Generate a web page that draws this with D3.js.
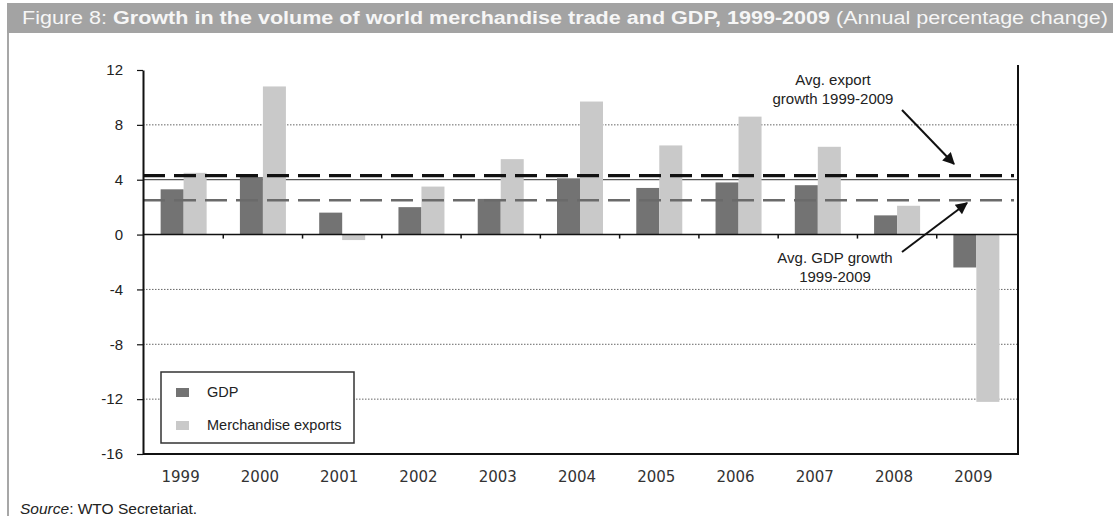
<!DOCTYPE html>
<html>
<head>
<meta charset="utf-8">
<script src="https://cdn.jsdelivr.net/npm/d3@7"></script>
<style>
  html, body { margin: 0; padding: 0; background: #fff; }
  svg { display: block; }
</style>
</head>
<body>
<svg id="chart" width="1116" height="516"></svg>
<script>
// Annual percentage change in volume, 1999-2009
const years = ["1999", "2000", "2001", "2002", "2003", "2004", "2005", "2006", "2007", "2008", "2009"];
const gdp = [3.3, 4.2, 1.6, 2.0, 2.6, 4.1, 3.4, 3.8, 3.6, 1.4, -2.4];
const exportsVol = [4.5, 10.8, -0.4, 3.5, 5.5, 9.7, 6.5, 8.6, 6.4, 2.1, -12.2];
const seriesNames = ["GDP", "Merchandise exports"];
const yTicks = [-16, -12, -8, -4, 0, 4, 8, 12];
const avgExportGrowth = 4.3;
const avgGdpGrowth = 2.5;

const svg = d3.select("#chart");

const colors = { "GDP": "#737373", "Merchandise exports": "#c9c9c9" };

// Title band
svg.append("rect")
  .attr("x", 7).attr("y", 3).attr("width", 1106).attr("height", 30)
  .attr("fill", "#a3a3a3");

const title = svg.append("text")
  .attr("x", 22).attr("y", 24)
  .attr("font-family", "Liberation Sans, Arial, sans-serif")
  .attr("font-size", 18)
  .attr("fill", "#f6f6f6")
  .attr("textLength", 1086)
  .attr("lengthAdjust", "spacingAndGlyphs");
title.append("tspan").text("Figure 8: ");
title.append("tspan").attr("font-weight", "bold")
  .text("Growth in the volume of world merchandise trade and GDP, 1999-2009");
title.append("tspan").text(" (Annual percentage change)");

// Frame line on the left
svg.append("line")
  .attr("x1", 8).attr("x2", 8).attr("y1", 33).attr("y2", 516)
  .attr("stroke", "#8a8a8a").attr("stroke-width", 1.5);

// Scales
const x0 = d3.scaleBand().domain(years).range([144, 1016]).padding(0);
const groupWidth = 46;
const x1 = d3.scaleBand().domain(seriesNames).range([0, groupWidth]).padding(0);
const y = d3.scaleLinear().domain([-16, 12]).range([454, 70]);

const left = 143, right = 1018;

// Gridlines: dotted, with a solid one at 4
const grid = svg.append("g");
[-12, -8, -4, 8].forEach(v => {
  grid.append("line")
    .attr("x1", left).attr("x2", right)
    .attr("y1", y(v)).attr("y2", y(v))
    .attr("stroke", "#666").attr("stroke-width", 1)
    .attr("stroke-dasharray", "1.5,1.5");
});
grid.append("line")
  .attr("x1", left).attr("x2", right)
  .attr("y1", y(4)).attr("y2", y(4))
  .attr("stroke", "#555").attr("stroke-width", 1.2);

// Bars
const rows = years.map((yr, i) => ({ year: yr, values: [
  { key: "GDP", value: gdp[i] },
  { key: "Merchandise exports", value: exportsVol[i] }
]}));

const groupOffset = (x0.bandwidth() - groupWidth) / 2;
svg.append("g")
  .selectAll("g")
  .data(rows)
  .join("g")
  .attr("transform", d => `translate(${x0(d.year) + groupOffset},0)`)
  .selectAll("rect")
  .data(d => d.values)
  .join("rect")
  .attr("x", d => x1(d.key))
  .attr("width", x1.bandwidth())
  .attr("y", d => y(Math.max(0, d.value)))
  .attr("height", d => Math.abs(y(d.value) - y(0)))
  .attr("fill", d => colors[d.key]);

// Average growth lines
svg.append("line")
  .attr("x1", left).attr("x2", 1014)
  .attr("y1", y(avgExportGrowth)).attr("y2", y(avgExportGrowth))
  .attr("stroke", "#111").attr("stroke-width", 3.2)
  .attr("stroke-dasharray", "22,9");
svg.append("line")
  .attr("x1", left).attr("x2", 1014)
  .attr("y1", y(avgGdpGrowth)).attr("y2", y(avgGdpGrowth))
  .attr("stroke", "#6a6a6a").attr("stroke-width", 2.4)
  .attr("stroke-dasharray", "22,9");

// Zero line with category ticks
svg.append("g")
  .attr("transform", `translate(0,${y(0)})`)
  .call(d3.axisBottom(x0).tickSize(0).tickFormat(""))
  .call(g => g.select(".domain").attr("stroke", "#111").attr("stroke-width", 1.6)
    .attr("d", `M${left},0H${right}`));
svg.append("g")
  .selectAll("line")
  .data(years.slice(1))
  .join("line")
  .attr("x1", d => x0(d)).attr("x2", d => x0(d))
  .attr("y1", y(0)).attr("y2", y(0) + 4)
  .attr("stroke", "#111").attr("stroke-width", 1.5);

// Bottom axis line and year labels
svg.append("line")
  .attr("x1", left).attr("x2", right)
  .attr("y1", y(-16)).attr("y2", y(-16))
  .attr("stroke", "#111").attr("stroke-width", 2);
svg.append("g")
  .selectAll("text")
  .data(years)
  .join("text")
  .attr("x", d => x0(d) + x0.bandwidth() / 2 - 3)
  .attr("y", 482)
  .attr("text-anchor", "middle")
  .attr("font-family", "DejaVu Sans, sans-serif")
  .attr("font-size", 15)
  .attr("fill", "#333")
  .text(d => d);

// Right border
svg.append("line")
  .attr("x1", right).attr("x2", right)
  .attr("y1", 65).attr("y2", y(-16) + 1)
  .attr("stroke", "#111").attr("stroke-width", 2);

// Y axis
svg.append("g")
  .attr("transform", `translate(${left},0)`)
  .call(d3.axisLeft(y).tickValues(yTicks).tickFormat(d => String(d))
    .tickSize(6).tickPadding(14).tickSizeOuter(0))
  .call(g => g.select(".domain").attr("stroke", "#111").attr("stroke-width", 2))
  .call(g => g.selectAll(".tick line").attr("stroke", "#111").attr("stroke-width", 1.2))
  .call(g => g.selectAll(".tick text")
    .attr("font-family", "Liberation Sans, Arial, sans-serif")
    .attr("font-size", 15)
    .attr("fill", "#222"));

// Legend
const legend = svg.append("g");
legend.append("rect")
  .attr("x", 161).attr("y", 372).attr("width", 193).attr("height", 71)
  .attr("fill", "#fff").attr("stroke", "#333").attr("stroke-width", 1.5);
seriesNames.forEach((name, i) => {
  legend.append("rect")
    .attr("x", 176).attr("y", 388 + i * 33).attr("width", 13).attr("height", 9)
    .attr("fill", colors[name]);
  legend.append("text")
    .attr("x", 207).attr("y", 397 + i * 33)
    .attr("font-family", "Liberation Sans, Arial, sans-serif")
    .attr("font-size", 14.5)
    .attr("fill", "#222")
    .text(name);
});

// Annotations with arrows
const defs = svg.append("defs");
defs.append("marker")
  .attr("id", "arrowHead")
  .attr("viewBox", "0 0 10 10")
  .attr("refX", 9).attr("refY", 5)
  .attr("markerWidth", 7).attr("markerHeight", 6)
  .attr("markerUnits", "strokeWidth")
  .attr("orient", "auto")
  .append("path").attr("d", "M0,0L10,5L0,10Z").attr("fill", "#111");

const annoFont = { family: "Liberation Sans, Arial, sans-serif", size: 15 };
function annotate(lines, cx, y0, from, to) {
  const t = svg.append("text")
    .attr("text-anchor", "middle")
    .attr("font-family", annoFont.family)
    .attr("font-size", annoFont.size)
    .attr("fill", "#222");
  lines.forEach((l, i) => t.append("tspan").attr("x", cx).attr("y", y0 + i * 19).text(l));
  svg.append("line")
    .attr("x1", from[0]).attr("y1", from[1])
    .attr("x2", to[0]).attr("y2", to[1])
    .attr("stroke", "#111").attr("stroke-width", 2)
    .attr("marker-end", "url(#arrowHead)");
}
annotate(["Avg. export", "growth 1999-2009"], 833, 85, [902, 110], [954, 164]);
annotate(["Avg. GDP growth", "1999-2009"], 835, 263, [902, 252], [967, 203]);

// Source note
const src = svg.append("text")
  .attr("x", 20).attr("y", 514)
  .attr("font-family", "Liberation Sans, Arial, sans-serif")
  .attr("font-size", 15.5)
  .attr("fill", "#222");
src.append("tspan").attr("font-style", "italic").text("Source");
src.append("tspan").text(": WTO Secretariat.");
</script>
</body>
</html>
